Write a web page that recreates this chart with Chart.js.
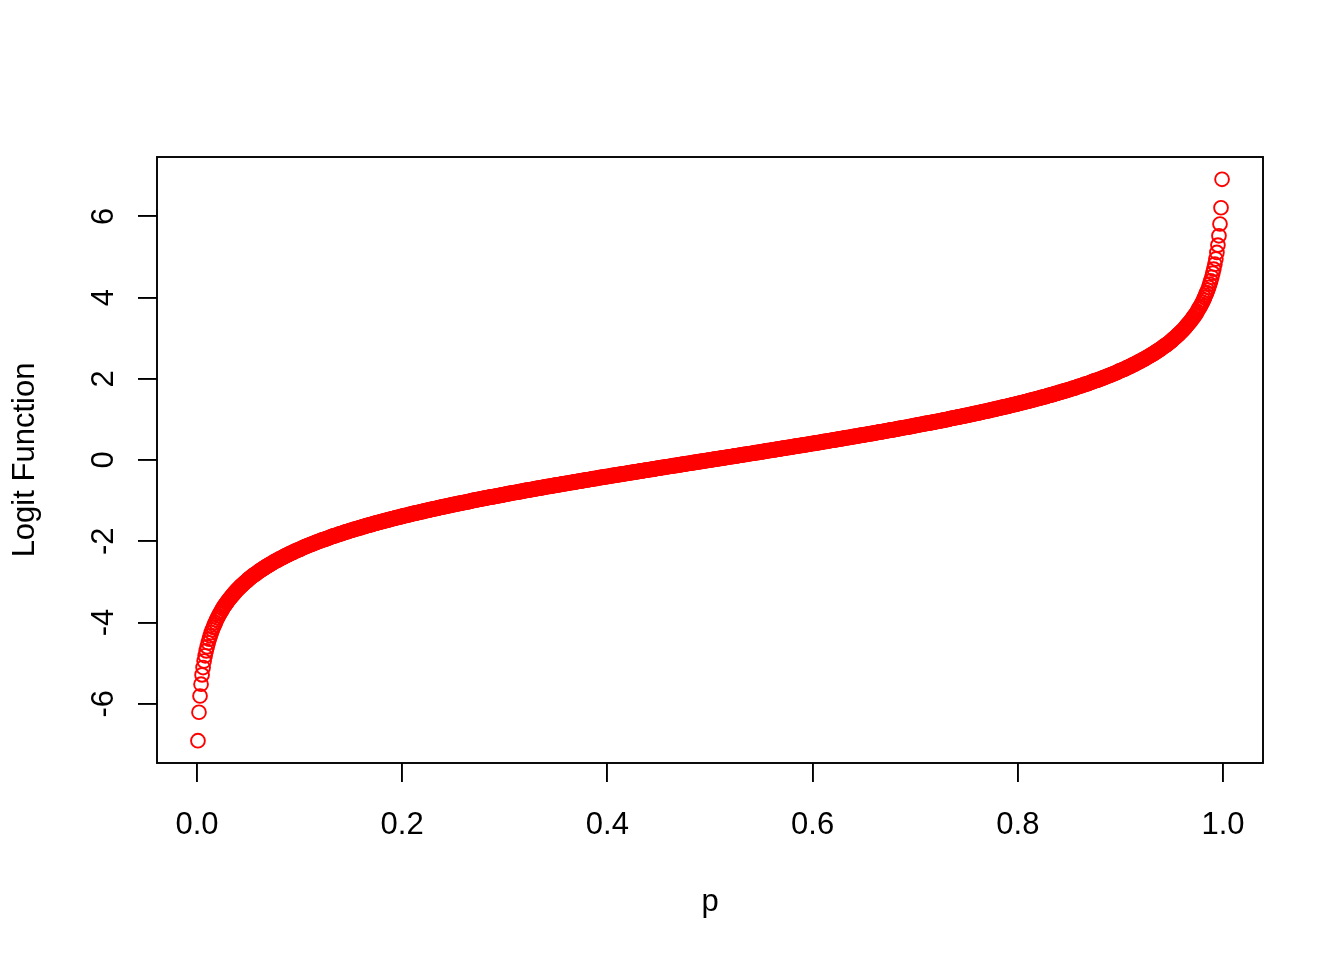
<!DOCTYPE html>
<html>
<head>
<meta charset="utf-8">
<script src="https://cdn.jsdelivr.net/npm/chart.js@4"></script>
<style>
html,body{margin:0;padding:0;background:#fff;}
#c{display:block;}
</style>
</head>
<body>
<canvas id="c" width="1344" height="960"></canvas>
<script>
// probabilities p
const p = [
0.001,0.002,0.003,0.004,0.005,0.006,0.007,0.008,0.009,0.010,0.011,0.012,0.013,0.014,0.015,0.016,0.017,0.018,0.019,0.020,
0.021,0.022,0.023,0.024,0.025,0.026,0.027,0.028,0.029,0.030,0.031,0.032,0.033,0.034,0.035,0.036,0.037,0.038,0.039,0.040,
0.041,0.042,0.043,0.044,0.045,0.046,0.047,0.048,0.049,0.050,0.051,0.052,0.053,0.054,0.055,0.056,0.057,0.058,0.059,0.060,
0.061,0.062,0.063,0.064,0.065,0.066,0.067,0.068,0.069,0.070,0.071,0.072,0.073,0.074,0.075,0.076,0.077,0.078,0.079,0.080,
0.081,0.082,0.083,0.084,0.085,0.086,0.087,0.088,0.089,0.090,0.091,0.092,0.093,0.094,0.095,0.096,0.097,0.098,0.099,0.100,
0.101,0.102,0.103,0.104,0.105,0.106,0.107,0.108,0.109,0.110,0.111,0.112,0.113,0.114,0.115,0.116,0.117,0.118,0.119,0.120,
0.121,0.122,0.123,0.124,0.125,0.126,0.127,0.128,0.129,0.130,0.131,0.132,0.133,0.134,0.135,0.136,0.137,0.138,0.139,0.140,
0.141,0.142,0.143,0.144,0.145,0.146,0.147,0.148,0.149,0.150,0.151,0.152,0.153,0.154,0.155,0.156,0.157,0.158,0.159,0.160,
0.161,0.162,0.163,0.164,0.165,0.166,0.167,0.168,0.169,0.170,0.171,0.172,0.173,0.174,0.175,0.176,0.177,0.178,0.179,0.180,
0.181,0.182,0.183,0.184,0.185,0.186,0.187,0.188,0.189,0.190,0.191,0.192,0.193,0.194,0.195,0.196,0.197,0.198,0.199,0.200,
0.201,0.202,0.203,0.204,0.205,0.206,0.207,0.208,0.209,0.210,0.211,0.212,0.213,0.214,0.215,0.216,0.217,0.218,0.219,0.220,
0.221,0.222,0.223,0.224,0.225,0.226,0.227,0.228,0.229,0.230,0.231,0.232,0.233,0.234,0.235,0.236,0.237,0.238,0.239,0.240,
0.241,0.242,0.243,0.244,0.245,0.246,0.247,0.248,0.249,0.250,0.251,0.252,0.253,0.254,0.255,0.256,0.257,0.258,0.259,0.260,
0.261,0.262,0.263,0.264,0.265,0.266,0.267,0.268,0.269,0.270,0.271,0.272,0.273,0.274,0.275,0.276,0.277,0.278,0.279,0.280,
0.281,0.282,0.283,0.284,0.285,0.286,0.287,0.288,0.289,0.290,0.291,0.292,0.293,0.294,0.295,0.296,0.297,0.298,0.299,0.300,
0.301,0.302,0.303,0.304,0.305,0.306,0.307,0.308,0.309,0.310,0.311,0.312,0.313,0.314,0.315,0.316,0.317,0.318,0.319,0.320,
0.321,0.322,0.323,0.324,0.325,0.326,0.327,0.328,0.329,0.330,0.331,0.332,0.333,0.334,0.335,0.336,0.337,0.338,0.339,0.340,
0.341,0.342,0.343,0.344,0.345,0.346,0.347,0.348,0.349,0.350,0.351,0.352,0.353,0.354,0.355,0.356,0.357,0.358,0.359,0.360,
0.361,0.362,0.363,0.364,0.365,0.366,0.367,0.368,0.369,0.370,0.371,0.372,0.373,0.374,0.375,0.376,0.377,0.378,0.379,0.380,
0.381,0.382,0.383,0.384,0.385,0.386,0.387,0.388,0.389,0.390,0.391,0.392,0.393,0.394,0.395,0.396,0.397,0.398,0.399,0.400,
0.401,0.402,0.403,0.404,0.405,0.406,0.407,0.408,0.409,0.410,0.411,0.412,0.413,0.414,0.415,0.416,0.417,0.418,0.419,0.420,
0.421,0.422,0.423,0.424,0.425,0.426,0.427,0.428,0.429,0.430,0.431,0.432,0.433,0.434,0.435,0.436,0.437,0.438,0.439,0.440,
0.441,0.442,0.443,0.444,0.445,0.446,0.447,0.448,0.449,0.450,0.451,0.452,0.453,0.454,0.455,0.456,0.457,0.458,0.459,0.460,
0.461,0.462,0.463,0.464,0.465,0.466,0.467,0.468,0.469,0.470,0.471,0.472,0.473,0.474,0.475,0.476,0.477,0.478,0.479,0.480,
0.481,0.482,0.483,0.484,0.485,0.486,0.487,0.488,0.489,0.490,0.491,0.492,0.493,0.494,0.495,0.496,0.497,0.498,0.499,0.500,
0.501,0.502,0.503,0.504,0.505,0.506,0.507,0.508,0.509,0.510,0.511,0.512,0.513,0.514,0.515,0.516,0.517,0.518,0.519,0.520,
0.521,0.522,0.523,0.524,0.525,0.526,0.527,0.528,0.529,0.530,0.531,0.532,0.533,0.534,0.535,0.536,0.537,0.538,0.539,0.540,
0.541,0.542,0.543,0.544,0.545,0.546,0.547,0.548,0.549,0.550,0.551,0.552,0.553,0.554,0.555,0.556,0.557,0.558,0.559,0.560,
0.561,0.562,0.563,0.564,0.565,0.566,0.567,0.568,0.569,0.570,0.571,0.572,0.573,0.574,0.575,0.576,0.577,0.578,0.579,0.580,
0.581,0.582,0.583,0.584,0.585,0.586,0.587,0.588,0.589,0.590,0.591,0.592,0.593,0.594,0.595,0.596,0.597,0.598,0.599,0.600,
0.601,0.602,0.603,0.604,0.605,0.606,0.607,0.608,0.609,0.610,0.611,0.612,0.613,0.614,0.615,0.616,0.617,0.618,0.619,0.620,
0.621,0.622,0.623,0.624,0.625,0.626,0.627,0.628,0.629,0.630,0.631,0.632,0.633,0.634,0.635,0.636,0.637,0.638,0.639,0.640,
0.641,0.642,0.643,0.644,0.645,0.646,0.647,0.648,0.649,0.650,0.651,0.652,0.653,0.654,0.655,0.656,0.657,0.658,0.659,0.660,
0.661,0.662,0.663,0.664,0.665,0.666,0.667,0.668,0.669,0.670,0.671,0.672,0.673,0.674,0.675,0.676,0.677,0.678,0.679,0.680,
0.681,0.682,0.683,0.684,0.685,0.686,0.687,0.688,0.689,0.690,0.691,0.692,0.693,0.694,0.695,0.696,0.697,0.698,0.699,0.700,
0.701,0.702,0.703,0.704,0.705,0.706,0.707,0.708,0.709,0.710,0.711,0.712,0.713,0.714,0.715,0.716,0.717,0.718,0.719,0.720,
0.721,0.722,0.723,0.724,0.725,0.726,0.727,0.728,0.729,0.730,0.731,0.732,0.733,0.734,0.735,0.736,0.737,0.738,0.739,0.740,
0.741,0.742,0.743,0.744,0.745,0.746,0.747,0.748,0.749,0.750,0.751,0.752,0.753,0.754,0.755,0.756,0.757,0.758,0.759,0.760,
0.761,0.762,0.763,0.764,0.765,0.766,0.767,0.768,0.769,0.770,0.771,0.772,0.773,0.774,0.775,0.776,0.777,0.778,0.779,0.780,
0.781,0.782,0.783,0.784,0.785,0.786,0.787,0.788,0.789,0.790,0.791,0.792,0.793,0.794,0.795,0.796,0.797,0.798,0.799,0.800,
0.801,0.802,0.803,0.804,0.805,0.806,0.807,0.808,0.809,0.810,0.811,0.812,0.813,0.814,0.815,0.816,0.817,0.818,0.819,0.820,
0.821,0.822,0.823,0.824,0.825,0.826,0.827,0.828,0.829,0.830,0.831,0.832,0.833,0.834,0.835,0.836,0.837,0.838,0.839,0.840,
0.841,0.842,0.843,0.844,0.845,0.846,0.847,0.848,0.849,0.850,0.851,0.852,0.853,0.854,0.855,0.856,0.857,0.858,0.859,0.860,
0.861,0.862,0.863,0.864,0.865,0.866,0.867,0.868,0.869,0.870,0.871,0.872,0.873,0.874,0.875,0.876,0.877,0.878,0.879,0.880,
0.881,0.882,0.883,0.884,0.885,0.886,0.887,0.888,0.889,0.890,0.891,0.892,0.893,0.894,0.895,0.896,0.897,0.898,0.899,0.900,
0.901,0.902,0.903,0.904,0.905,0.906,0.907,0.908,0.909,0.910,0.911,0.912,0.913,0.914,0.915,0.916,0.917,0.918,0.919,0.920,
0.921,0.922,0.923,0.924,0.925,0.926,0.927,0.928,0.929,0.930,0.931,0.932,0.933,0.934,0.935,0.936,0.937,0.938,0.939,0.940,
0.941,0.942,0.943,0.944,0.945,0.946,0.947,0.948,0.949,0.950,0.951,0.952,0.953,0.954,0.955,0.956,0.957,0.958,0.959,0.960,
0.961,0.962,0.963,0.964,0.965,0.966,0.967,0.968,0.969,0.970,0.971,0.972,0.973,0.974,0.975,0.976,0.977,0.978,0.979,0.980,
0.981,0.982,0.983,0.984,0.985,0.986,0.987,0.988,0.989,0.990,0.991,0.992,0.993,0.994,0.995,0.996,0.997,0.998,0.999
];

// logit values read for each p
const logitValues = [
-6.91,-6.21,-5.81,-5.52,-5.29,-5.11,-4.95,-4.82,-4.70,-4.60,
-4.50,-4.41,-4.33,-4.25,-4.18,-4.12,-4.06,-4.00,-3.94,-3.89,
-3.84,-3.79,-3.75,-3.71,-3.66,-3.62,-3.58,-3.55,-3.51,-3.48,
-3.44,-3.41,-3.38,-3.35,-3.32,-3.29,-3.26,-3.23,-3.20,-3.18,
-3.15,-3.13,-3.10,-3.08,-3.06,-3.03,-3.01,-2.99,-2.97,-2.94,
-2.92,-2.90,-2.88,-2.86,-2.84,-2.82,-2.81,-2.79,-2.77,-2.75,
-2.73,-2.72,-2.70,-2.68,-2.67,-2.65,-2.63,-2.62,-2.60,-2.59,
-2.57,-2.56,-2.54,-2.53,-2.51,-2.50,-2.48,-2.47,-2.46,-2.44,
-2.43,-2.42,-2.40,-2.39,-2.38,-2.36,-2.35,-2.34,-2.33,-2.31,
-2.30,-2.29,-2.28,-2.27,-2.25,-2.24,-2.23,-2.22,-2.21,-2.20,
-2.19,-2.18,-2.16,-2.15,-2.14,-2.13,-2.12,-2.11,-2.10,-2.09,
-2.08,-2.07,-2.06,-2.05,-2.04,-2.03,-2.02,-2.01,-2.00,-1.99,
-1.98,-1.97,-1.96,-1.96,-1.95,-1.94,-1.93,-1.92,-1.91,-1.90,
-1.89,-1.88,-1.87,-1.87,-1.86,-1.85,-1.84,-1.83,-1.82,-1.82,
-1.81,-1.80,-1.79,-1.78,-1.77,-1.77,-1.76,-1.75,-1.74,-1.73,
-1.73,-1.72,-1.71,-1.70,-1.70,-1.69,-1.68,-1.67,-1.67,-1.66,
-1.65,-1.64,-1.64,-1.63,-1.62,-1.61,-1.61,-1.60,-1.59,-1.59,
-1.58,-1.57,-1.56,-1.56,-1.55,-1.54,-1.54,-1.53,-1.52,-1.52,
-1.51,-1.50,-1.50,-1.49,-1.48,-1.48,-1.47,-1.46,-1.46,-1.45,
-1.44,-1.44,-1.43,-1.42,-1.42,-1.41,-1.41,-1.40,-1.39,-1.39,
-1.38,-1.37,-1.37,-1.36,-1.36,-1.35,-1.34,-1.34,-1.33,-1.32,
-1.32,-1.31,-1.31,-1.30,-1.30,-1.29,-1.28,-1.28,-1.27,-1.27,
-1.26,-1.25,-1.25,-1.24,-1.24,-1.23,-1.23,-1.22,-1.21,-1.21,
-1.20,-1.20,-1.19,-1.19,-1.18,-1.17,-1.17,-1.16,-1.16,-1.15,
-1.15,-1.14,-1.14,-1.13,-1.13,-1.12,-1.11,-1.11,-1.10,-1.10,
-1.09,-1.09,-1.08,-1.08,-1.07,-1.07,-1.06,-1.06,-1.05,-1.05,
-1.04,-1.04,-1.03,-1.03,-1.02,-1.02,-1.01,-1.00,-1.00,-0.99,
-0.99,-0.98,-0.98,-0.97,-0.97,-0.96,-0.96,-0.95,-0.95,-0.94,
-0.94,-0.93,-0.93,-0.92,-0.92,-0.91,-0.91,-0.91,-0.90,-0.90,
-0.89,-0.89,-0.88,-0.88,-0.87,-0.87,-0.86,-0.86,-0.85,-0.85,
-0.84,-0.84,-0.83,-0.83,-0.82,-0.82,-0.81,-0.81,-0.80,-0.80,
-0.80,-0.79,-0.79,-0.78,-0.78,-0.77,-0.77,-0.76,-0.76,-0.75,
-0.75,-0.74,-0.74,-0.74,-0.73,-0.73,-0.72,-0.72,-0.71,-0.71,
-0.70,-0.70,-0.69,-0.69,-0.69,-0.68,-0.68,-0.67,-0.67,-0.66,
-0.66,-0.65,-0.65,-0.65,-0.64,-0.64,-0.63,-0.63,-0.62,-0.62,
-0.61,-0.61,-0.61,-0.60,-0.60,-0.59,-0.59,-0.58,-0.58,-0.58,
-0.57,-0.57,-0.56,-0.56,-0.55,-0.55,-0.55,-0.54,-0.54,-0.53,
-0.53,-0.52,-0.52,-0.52,-0.51,-0.51,-0.50,-0.50,-0.49,-0.49,
-0.49,-0.48,-0.48,-0.47,-0.47,-0.46,-0.46,-0.46,-0.45,-0.45,
-0.44,-0.44,-0.43,-0.43,-0.43,-0.42,-0.42,-0.41,-0.41,-0.41,
-0.40,-0.40,-0.39,-0.39,-0.38,-0.38,-0.38,-0.37,-0.37,-0.36,
-0.36,-0.36,-0.35,-0.35,-0.34,-0.34,-0.34,-0.33,-0.33,-0.32,
-0.32,-0.31,-0.31,-0.31,-0.30,-0.30,-0.29,-0.29,-0.29,-0.28,
-0.28,-0.27,-0.27,-0.27,-0.26,-0.26,-0.25,-0.25,-0.25,-0.24,
-0.24,-0.23,-0.23,-0.23,-0.22,-0.22,-0.21,-0.21,-0.20,-0.20,
-0.20,-0.19,-0.19,-0.18,-0.18,-0.18,-0.17,-0.17,-0.16,-0.16,
-0.16,-0.15,-0.15,-0.14,-0.14,-0.14,-0.13,-0.13,-0.12,-0.12,
-0.12,-0.11,-0.11,-0.10,-0.10,-0.10,-0.09,-0.09,-0.08,-0.08,
-0.08,-0.07,-0.07,-0.06,-0.06,-0.06,-0.05,-0.05,-0.04,-0.04,
-0.04,-0.03,-0.03,-0.02,-0.02,-0.02,-0.01,-0.01,0.00,0.00,
0.00,0.01,0.01,0.02,0.02,0.02,0.03,0.03,0.04,0.04,
0.04,0.05,0.05,0.06,0.06,0.06,0.07,0.07,0.08,0.08,
0.08,0.09,0.09,0.10,0.10,0.10,0.11,0.11,0.12,0.12,
0.12,0.13,0.13,0.14,0.14,0.14,0.15,0.15,0.16,0.16,
0.16,0.17,0.17,0.18,0.18,0.18,0.19,0.19,0.20,0.20,
0.20,0.21,0.21,0.22,0.22,0.23,0.23,0.23,0.24,0.24,
0.25,0.25,0.25,0.26,0.26,0.27,0.27,0.27,0.28,0.28,
0.29,0.29,0.29,0.30,0.30,0.31,0.31,0.31,0.32,0.32,
0.33,0.33,0.34,0.34,0.34,0.35,0.35,0.36,0.36,0.36,
0.37,0.37,0.38,0.38,0.38,0.39,0.39,0.40,0.40,0.41,
0.41,0.41,0.42,0.42,0.43,0.43,0.43,0.44,0.44,0.45,
0.45,0.46,0.46,0.46,0.47,0.47,0.48,0.48,0.49,0.49,
0.49,0.50,0.50,0.51,0.51,0.52,0.52,0.52,0.53,0.53,
0.54,0.54,0.55,0.55,0.55,0.56,0.56,0.57,0.57,0.58,
0.58,0.58,0.59,0.59,0.60,0.60,0.61,0.61,0.61,0.62,
0.62,0.63,0.63,0.64,0.64,0.65,0.65,0.65,0.66,0.66,
0.67,0.67,0.68,0.68,0.69,0.69,0.69,0.70,0.70,0.71,
0.71,0.72,0.72,0.73,0.73,0.74,0.74,0.74,0.75,0.75,
0.76,0.76,0.77,0.77,0.78,0.78,0.79,0.79,0.80,0.80,
0.80,0.81,0.81,0.82,0.82,0.83,0.83,0.84,0.84,0.85,
0.85,0.86,0.86,0.87,0.87,0.88,0.88,0.89,0.89,0.90,
0.90,0.91,0.91,0.91,0.92,0.92,0.93,0.93,0.94,0.94,
0.95,0.95,0.96,0.96,0.97,0.97,0.98,0.98,0.99,0.99,
1.00,1.00,1.01,1.02,1.02,1.03,1.03,1.04,1.04,1.05,
1.05,1.06,1.06,1.07,1.07,1.08,1.08,1.09,1.09,1.10,
1.10,1.11,1.11,1.12,1.13,1.13,1.14,1.14,1.15,1.15,
1.16,1.16,1.17,1.17,1.18,1.19,1.19,1.20,1.20,1.21,
1.21,1.22,1.23,1.23,1.24,1.24,1.25,1.25,1.26,1.27,
1.27,1.28,1.28,1.29,1.30,1.30,1.31,1.31,1.32,1.32,
1.33,1.34,1.34,1.35,1.36,1.36,1.37,1.37,1.38,1.39,
1.39,1.40,1.41,1.41,1.42,1.42,1.43,1.44,1.44,1.45,
1.46,1.46,1.47,1.48,1.48,1.49,1.50,1.50,1.51,1.52,
1.52,1.53,1.54,1.54,1.55,1.56,1.56,1.57,1.58,1.59,
1.59,1.60,1.61,1.61,1.62,1.63,1.64,1.64,1.65,1.66,
1.67,1.67,1.68,1.69,1.70,1.70,1.71,1.72,1.73,1.73,
1.74,1.75,1.76,1.77,1.77,1.78,1.79,1.80,1.81,1.82,
1.82,1.83,1.84,1.85,1.86,1.87,1.87,1.88,1.89,1.90,
1.91,1.92,1.93,1.94,1.95,1.96,1.96,1.97,1.98,1.99,
2.00,2.01,2.02,2.03,2.04,2.05,2.06,2.07,2.08,2.09,
2.10,2.11,2.12,2.13,2.14,2.15,2.16,2.18,2.19,2.20,
2.21,2.22,2.23,2.24,2.25,2.27,2.28,2.29,2.30,2.31,
2.33,2.34,2.35,2.36,2.38,2.39,2.40,2.42,2.43,2.44,
2.46,2.47,2.48,2.50,2.51,2.53,2.54,2.56,2.57,2.59,
2.60,2.62,2.63,2.65,2.67,2.68,2.70,2.72,2.73,2.75,
2.77,2.79,2.81,2.82,2.84,2.86,2.88,2.90,2.92,2.94,
2.97,2.99,3.01,3.03,3.06,3.08,3.10,3.13,3.15,3.18,
3.20,3.23,3.26,3.29,3.32,3.35,3.38,3.41,3.44,3.48,
3.51,3.55,3.58,3.62,3.66,3.71,3.75,3.79,3.84,3.89,
3.94,4.00,4.06,4.12,4.18,4.25,4.33,4.41,4.50,4.60,
4.70,4.82,4.95,5.11,5.29,5.52,5.81,6.21,6.91
];

const xTickValues = [0, 0.2, 0.4, 0.6, 0.8, 1.0];
const xTickLabels = ['0.0', '0.2', '0.4', '0.6', '0.8', '1.0'];
const yTickValues = [-6, -4, -2, 0, 2, 4, 6];
const yTickLabels = ['-6', '-4', '-2', '0', '2', '4', '6'];
const xTitle = 'p';
const yTitle = 'Logit Function';

const FONT = '31px "Liberation Sans", Arial, Helvetica, sans-serif';

const points = p.map((v, i) => ({ x: v, y: logitValues[i] }));

const rPlot = {
  id: 'rPlot',
  afterDatasetsDraw(chart) {
    const ctx = chart.ctx;
    const a = chart.chartArea;
    ctx.save();
    ctx.strokeStyle = '#000';
    ctx.lineWidth = 1.9;
    ctx.strokeRect(a.left, a.top, a.right - a.left, a.bottom - a.top);
    ctx.restore();
  },
  afterDraw(chart) {
    const ctx = chart.ctx;
    const xs = chart.scales.x;
    const ys = chart.scales.y;
    const a = chart.chartArea;
    ctx.save();
    ctx.fillStyle = '#000';
    ctx.font = FONT;
    ctx.textAlign = 'center';
    ctx.textBaseline = 'alphabetic';
    xTickValues.forEach((v, i) => {
      ctx.fillText(xTickLabels[i], xs.getPixelForValue(v), a.bottom + 71);
    });
    yTickValues.forEach((v, i) => {
      ctx.save();
      ctx.translate(a.left - 44, ys.getPixelForValue(v));
      ctx.rotate(-Math.PI / 2);
      ctx.fillText(yTickLabels[i], 0, 0);
      ctx.restore();
    });
    ctx.fillText(xTitle, (a.left + a.right) / 2, a.bottom + 148);
    ctx.save();
    ctx.translate(34, (a.top + a.bottom) / 2);
    ctx.rotate(-Math.PI / 2);
    ctx.fillText(yTitle, 0, 0);
    ctx.restore();
    ctx.restore();
  }
};

new Chart(document.getElementById('c'), {
  type: 'scatter',
  data: {
    datasets: [{
      data: points,
      showLine: false,
      pointStyle: 'circle',
      pointRadius: 6.9,
      pointBorderWidth: 1.9,
      pointBackgroundColor: 'rgba(0,0,0,0)',
      pointBorderColor: '#ff0000',
      borderColor: '#ff0000',
      backgroundColor: 'rgba(0,0,0,0)'
    }]
  },
  options: {
    responsive: false,
    animation: false,
    events: [],
    layout: { padding: { top: 157, right: 81, left: 0, bottom: 0 } },
    plugins: { legend: { display: false }, tooltip: { enabled: false }, title: { display: false } },
    scales: {
      x: {
        type: 'linear',
        min: -0.03892,
        max: 1.03892,
        afterBuildTicks(scale) { scale.ticks = xTickValues.map(v => ({ value: v })); },
        afterFit(scale) { scale.height = 197; },
        ticks: { display: false },
        border: { display: false },
        grid: { drawOnChartArea: false, drawTicks: true, tickLength: 19, color: '#000', lineWidth: 1.9 }
      },
      y: {
        type: 'linear',
        min: -7.4593,
        max: 7.4593,
        afterBuildTicks(scale) { scale.ticks = yTickValues.map(v => ({ value: v })); },
        afterFit(scale) { scale.width = 157; },
        ticks: { display: false },
        border: { display: false },
        grid: { drawOnChartArea: false, drawTicks: true, tickLength: 19, color: '#000', lineWidth: 1.9 }
      }
    }
  },
  plugins: [rPlot]
});
</script>
</body>
</html>
